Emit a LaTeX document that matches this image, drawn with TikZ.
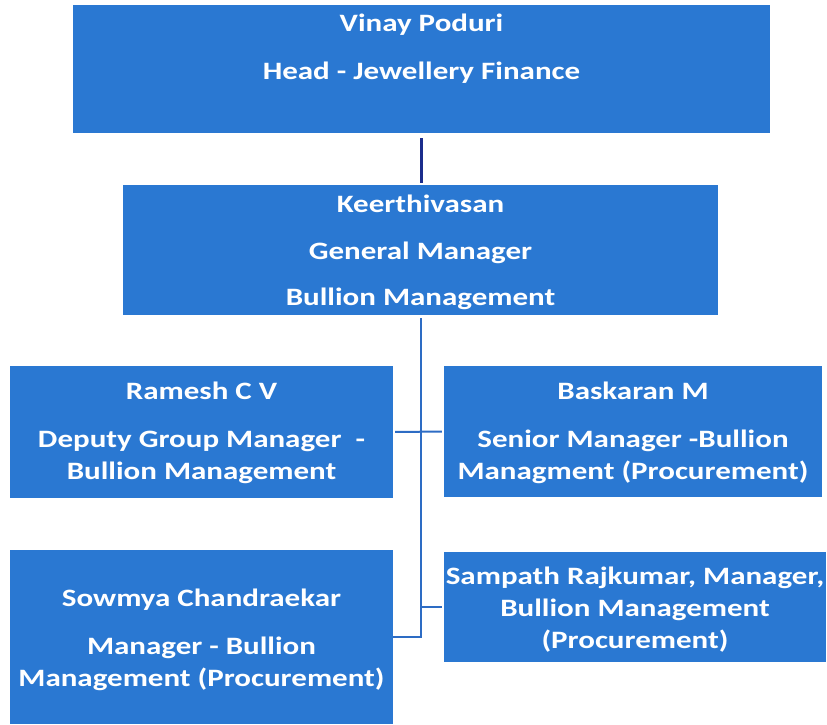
\documentclass[tikz,border=0pt]{standalone}
\usepackage{fontspec}
\setmainfont{Carlito}
\newfontfamily\boxfont[FakeStretch=1.24]{Carlito}
\usepackage{xcolor}
\usepackage{tikz}
\usetikzlibrary{positioning}

\definecolor{boxblue}{RGB}{42,120,210}
\definecolor{lineblue}{RGB}{45,108,196}
\definecolor{navyline}{RGB}{27,45,140}

\begin{document}
\begin{tikzpicture}[x=1pt,y=-1pt]
\tikzstyle{box} = [rectangle, fill=boxblue, inner sep=0pt]
\tikzstyle{txt} = [text=white, font=\boxfont\fontsize{25}{32}\selectfont\bfseries, align=center, inner sep=0pt]
\tikzstyle{link} = [draw=lineblue, line width=2pt]

\useasboundingbox (0,0) rectangle (827,724);

\node (vinay) [box, minimum width=697pt, minimum height=128pt] at (421.5,69) {};
\node (keerthi) [box, minimum width=595pt, minimum height=130pt] at (420.5,250) {};
\node (ramesh) [box, minimum width=383pt, minimum height=132pt] at (201.5,432) {};
\node (baskaran) [box, minimum width=378pt, minimum height=131pt] at (633,431.5) {};
\node (sowmya) [box, minimum width=383pt, minimum height=174pt] at (201.5,637) {};
\node (sampath) [box, minimum width=382pt, minimum height=110pt] at (635,607) {};

\node (vinayText) [txt, below=9pt of vinay.north] {Vinay Poduri\\[16pt]Head - Jewellery Finance};
\node (keerthiText) [txt, below=10pt of keerthi.north] {Keerthivasan\\[15pt]General Manager\\[14pt]Bullion Management};
\node (rameshText) [txt, below=16pt of ramesh.north] {Ramesh C V\\[16pt]Deputy Group Manager~~-\\Bullion Management};
\node (baskaranText) [txt, below=16pt of baskaran.north] {Baskaran M\\[16pt]Senior Manager -Bullion\\Managment (Procurement)};
\node (sowmyaText) [txt, below=39pt of sowmya.north] {Sowmya Chandraekar\\[16pt]Manager - Bullion\\Management (Procurement)};
\node (sampathText) [txt, below=15pt of sampath.north] {Sampath Rajkumar, Manager,\\Bullion Management\\(Procurement)};

\draw [draw=navyline, line width=2.5pt, shorten <=5pt, shorten >=2pt] (vinay.south) -- (vinay.south |- keerthi.north);
\draw [link, shorten <=3pt] (keerthi.south) |- (sowmya.east);
\draw [link, shorten <=2pt, shorten >=2pt] (ramesh.east) -- (baskaran.west);
\draw [link, shorten <=2pt] (sampath.west) -- (sampath.west -| keerthi.south);

\end{tikzpicture}
\end{document}
